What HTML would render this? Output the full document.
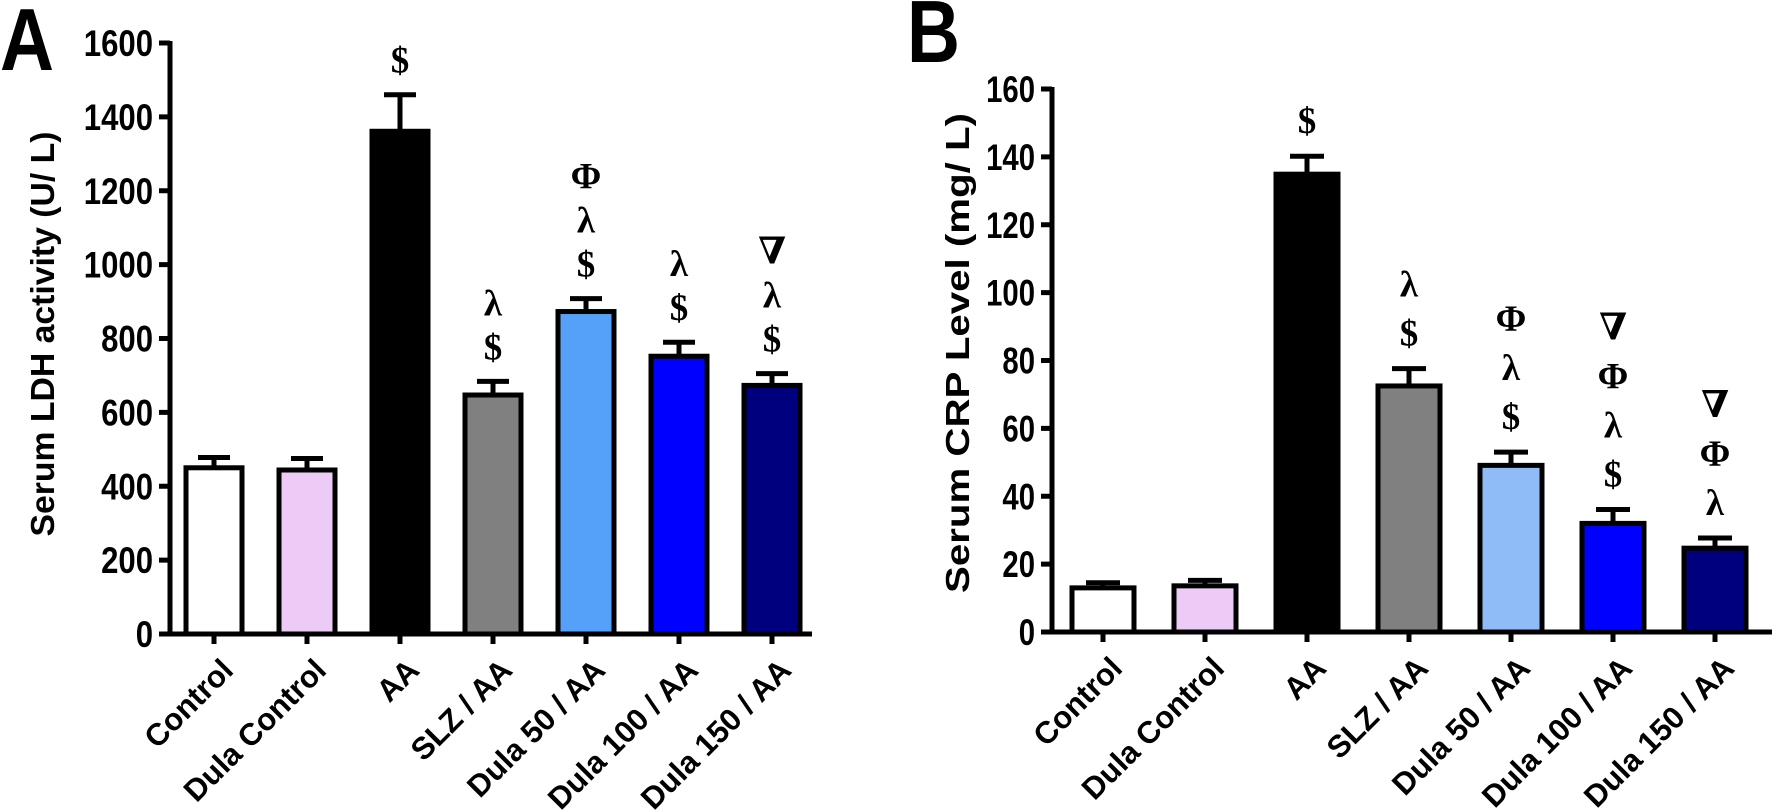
<!DOCTYPE html>
<html><head><meta charset="utf-8"><style>
html,body{margin:0;padding:0;background:#fff}
svg{display:block}
text{font-family:"Liberation Sans",Arial,sans-serif;font-weight:bold;fill:#000}
.sym{font-family:"Liberation Serif","DejaVu Serif",serif;font-weight:bold;font-size:37px}
</style></head><body>
<svg id="fig" width="1772" height="811" viewBox="0 0 1772 811" xmlns="http://www.w3.org/2000/svg">
<text x="0" y="70" font-size="88" textLength="54" lengthAdjust="spacingAndGlyphs">A</text>
<text x="907" y="62" font-size="88" textLength="53" lengthAdjust="spacingAndGlyphs">B</text>
<g id="panelA"></g>
<g id="panelB"></g>
</svg>
<script>
const categories = ["Control","Dula Control","AA","SLZ / AA","Dula 50 / AA","Dula 100 / AA","Dula 150 / AA"];
const ldhValues = [450,444,1361,647,873,752,673];
const ldhErrors = [28,31,99,37,35,38,32];
const ldhTicks = [0,200,400,600,800,1000,1200,1400,1600];
const ldhSymbols = [[],[],["$"],["$","λ"],["$","λ","Φ"],["$","λ"],["$","λ","∇"]];
const crpValues = [13.0,13.6,134.9,72.5,49.1,32.0,24.7];
const crpErrors = [1.5,1.6,5.3,5.1,3.9,4.1,3.0];
const crpTicks = [0,20,40,60,80,100,120,140,160];
const crpSymbols = [[],[],["$"],["$","λ"],["$","λ","Φ"],["$","λ","Φ","∇"],["λ","Φ","∇"]];
const ldhColors = ["#ffffff","#eccbf6","#000000","#808080","#55a0f8","#0000fe","#00007f"];
const crpColors = ["#ffffff","#eccbf6","#000000","#808080","#8fbcf7","#0000fe","#00007f"];
const NS="http://www.w3.org/2000/svg";
function mk(tag, attrs, parent){const e=document.createElementNS(NS,tag);for(const k in attrs)e.setAttribute(k,attrs[k]);parent.appendChild(e);return e;}

function drawPanel(g, cfg){
  const yScale = v => cfg.y0 - (v - cfg.min)/(cfg.max - cfg.min)*(cfg.y0 - cfg.y1);
  const xScale = i => cfg.x0 + i*cfg.step;
  const ya = mk('line',{x1:cfg.ax,y1:cfg.y1-2,x2:cfg.ax,y2:cfg.y0+2,stroke:'#000','stroke-width':5},g);
  
  
  cfg.ticks.forEach(t=>{
    const y=yScale(t);
    const tl=mk('line',{x1:cfg.ax-11,y1:y,x2:cfg.ax,y2:y,stroke:'#000','stroke-width':5},g);
    
    
    const s=String(t);
    const tx=mk('text',{x:cfg.ax-17,y:y+13,'font-size':37,'text-anchor':'end',textLength:s.length*cfg.charW,lengthAdjust:'spacingAndGlyphs'},g);
    tx.textContent=s;
    
    
  });
  const xa=mk('line',{x1:cfg.ax-11,y1:cfg.y0,x2:cfg.xEnd,y2:cfg.y0,stroke:'#000','stroke-width':5},g);
  
  
  const yt=mk('text',{x:0,y:0,'font-size':33,'text-anchor':'middle',textLength:cfg.titleLen,lengthAdjust:'spacingAndGlyphs',transform:`translate(${cfg.titleX},${cfg.titleY}) rotate(-90)`},g);
  yt.textContent=cfg.title;
  
  
  cfg.values.forEach((v,i)=>{
    const cx=xScale(i), top=yScale(v), et=yScale(v+cfg.errors[i]);
    const hw=cfg.barW/2;
    const b=mk('rect',{x:cx-hw,y:top,width:cfg.barW,height:cfg.y0-top,fill:cfg.colors[i],stroke:'#000','stroke-width':5},g);
    
    
    const e1=mk('line',{x1:cx,y1:top,x2:cx,y2:et,stroke:'#000','stroke-width':5},g);
    
    
    const e2=mk('line',{x1:cx-cfg.capW/2,y1:et,x2:cx+cfg.capW/2,y2:et,stroke:'#000','stroke-width':5},g);
    
    
    const xt=mk('line',{x1:cx,y1:cfg.y0,x2:cx,y2:cfg.y0+10,stroke:'#000','stroke-width':5},g);
    
    
    const lx=cx+21, ly=cfg.y0+38;
    const lab=mk('text',{x:0,y:0,'font-size':31,'text-anchor':'end',transform:`translate(${lx},${ly}) rotate(-45)`},g);
    lab.textContent=categories[i];
    
    
    cfg.symbols[i].forEach((s,k)=>{
      const sy=et-cfg.symOff-k*cfg.symGap+13;
      const st=mk('text',{x:cx,y:sy,'text-anchor':'middle',class:'sym'},g);
      st.textContent=s;
      
      
    });
  });
}
drawPanel(document.getElementById('panelA'),{
  values:ldhValues,errors:ldhErrors,ticks:ldhTicks,symbols:ldhSymbols,colors:ldhColors,
  min:0,max:1600,y0:634,y1:43,ax:170,x0:214,step:93,xEnd:812,barW:56,capW:32,charW:17.3,
  title:"Serum LDH activity (U/ L)",titleX:54,titleY:334,titleLen:405,symOff:35,symGap:44
});
drawPanel(document.getElementById('panelB'),{
  values:crpValues,errors:crpErrors,ticks:crpTicks,symbols:crpSymbols,colors:crpColors,
  min:0,max:160,y0:632,y1:89,ax:1052,x0:1103,step:102,xEnd:1772,barW:62,capW:34,charW:16.3,
  title:"Serum CRP Level  (mg/ L)",titleX:969,titleY:353,titleLen:480,symOff:36,symGap:49
});
</script>
</body></html>
